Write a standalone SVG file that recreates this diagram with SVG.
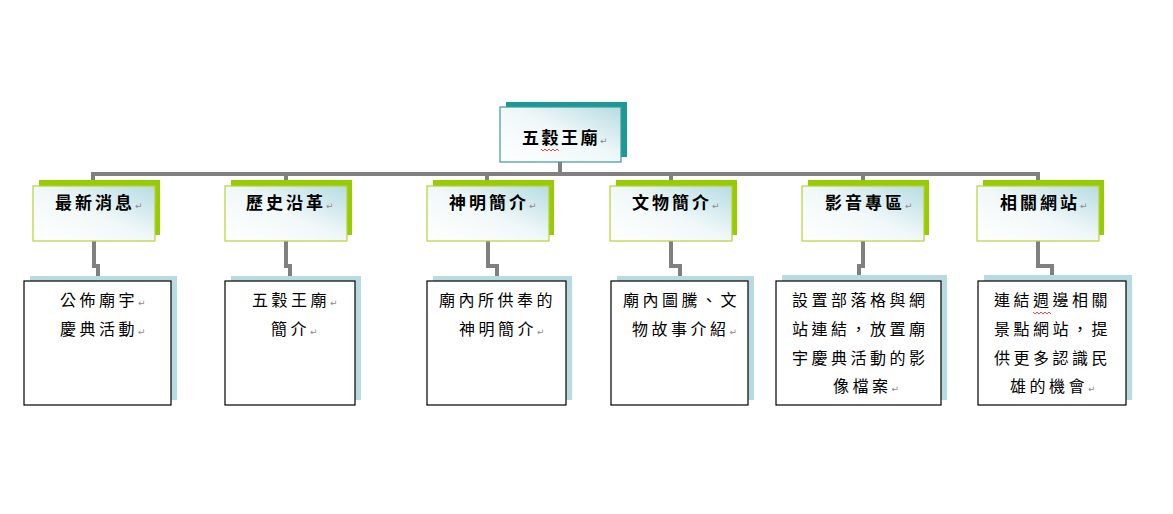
<svg xmlns="http://www.w3.org/2000/svg" width="1173" height="514" viewBox="0 0 1173 514">
<style>
.conn{fill:none;stroke:#808080;stroke-width:4}
.tshadow{fill:#1b9994}
.tfront{fill:url(#gT);stroke:#3a9c99;stroke-width:1.2}
.gshadow{fill:#99cc00}
.gfront{fill:url(#gG);stroke:#b5d334;stroke-width:1.2}
.bshadow{fill:#b8dbe2}
.bfront{fill:#ffffff;stroke:#000000;stroke-width:1.2}
.h1{font-family:"Noto Sans CJK TC","Noto Sans CJK SC",sans-serif;font-weight:700;font-size:17px;letter-spacing:2.5px;fill:#000}
.h2{font-family:"Noto Sans CJK TC","Noto Sans CJK SC",sans-serif;font-weight:700;font-size:17px;letter-spacing:3px;fill:#000}
.t3{font-family:"Noto Sans CJK TC","Noto Sans CJK SC",sans-serif;font-size:16px;letter-spacing:3.5px;fill:#000}
.pm{font-family:"DejaVu Sans",sans-serif;font-size:9px;font-weight:400;letter-spacing:0;fill:#8a8a8a}
.wavy{fill:none;stroke:#e02020;stroke-width:0.8}
</style>
<defs>
<linearGradient id="gT" x1="0" y1="1" x2="1" y2="0">
<stop offset="0" stop-color="#ffffff"/>
<stop offset="0.55" stop-color="#eef7f8"/>
<stop offset="1" stop-color="#b7dbe1"/>
</linearGradient>
<linearGradient id="gG" x1="0" y1="1" x2="1" y2="0">
<stop offset="0" stop-color="#ffffff"/>
<stop offset="0.5" stop-color="#f1f8f9"/>
<stop offset="1" stop-color="#b5dce3"/>
</linearGradient>
</defs>
<rect width="1173" height="514" fill="#ffffff"/>
<g id="connectors">
<path class="conn" d="M560 162 V174"/>
<path class="conn" d="M93 181 V174 H1038 V181"/>
<path class="conn" d="M286 174 V181 M487 174 V181 M671 174 V181 M863 174 V181"/>
<path class="conn" d="M94 240 V266 H98 V277"/>
<path class="conn" d="M286 240 V266 H290 V277"/>
<path class="conn" d="M488 240 V266 H497 V277"/>
<path class="conn" d="M671 240 V266 H680 V277"/>
<path class="conn" d="M863 240 V266 H859 V277"/>
<path class="conn" d="M1038 240 V266 H1052 V277"/>
</g>
<g id="n0">
<rect class="tshadow" x="506" y="102" width="121" height="55"/>
<rect class="tfront" x="500" y="107" width="121" height="55"/>
<text class="h1" x="522" y="144">五穀王廟<tspan class="pm">↵</tspan></text>
<polyline class="wavy" points="541,149 543,151 545,149 547,151 549,149 551,151 553,149 555,151 557,149 559,151"/>
</g>
<g id="n1">
<rect class="gshadow" x="39" y="180" width="121" height="55"/>
<rect class="gfront" x="33" y="186" width="122" height="55"/>
<text class="h2" x="55" y="209">最新消息<tspan class="pm">↵</tspan></text>
</g>
<g id="n2">
<rect class="gshadow" x="231" y="180" width="121" height="55"/>
<rect class="gfront" x="225" y="186" width="122" height="55"/>
<text class="h2" x="246" y="209">歷史沿革<tspan class="pm">↵</tspan></text>
</g>
<g id="n3">
<rect class="gshadow" x="433" y="180" width="121" height="55"/>
<rect class="gfront" x="427" y="186" width="122" height="55"/>
<text class="h2" x="449" y="209">神明簡介<tspan class="pm">↵</tspan></text>
</g>
<g id="n4">
<rect class="gshadow" x="616" y="180" width="121" height="55"/>
<rect class="gfront" x="610" y="186" width="122" height="55"/>
<text class="h2" x="632" y="209">文物簡介<tspan class="pm">↵</tspan></text>
</g>
<g id="n5">
<rect class="gshadow" x="808" y="180" width="121" height="55"/>
<rect class="gfront" x="802" y="186" width="122" height="55"/>
<text class="h2" x="825" y="209">影音專區<tspan class="pm">↵</tspan></text>
</g>
<g id="n6">
<rect class="gshadow" x="983" y="180" width="121" height="55"/>
<rect class="gfront" x="977" y="186" width="122" height="55"/>
<text class="h2" x="1000" y="209">相關網站<tspan class="pm">↵</tspan></text>
</g>
<g id="d1">
<rect class="bshadow" x="30" y="276" width="147" height="124"/>
<rect class="bfront" x="24" y="281" width="147" height="124"/>
<text class="t3" x="60" y="306">公佈廟宇<tspan class="pm">↵</tspan></text>
<text class="t3" x="60" y="335">慶典活動<tspan class="pm">↵</tspan></text>
</g>
<g id="d2">
<rect class="bshadow" x="231" y="276" width="130" height="124"/>
<rect class="bfront" x="225" y="281" width="130" height="124"/>
<text class="t3" x="252" y="306">五穀王廟<tspan class="pm">↵</tspan></text>
<text class="t3" x="271" y="335">簡介<tspan class="pm">↵</tspan></text>
</g>
<g id="d3">
<rect class="bshadow" x="433" y="276" width="139" height="124"/>
<rect class="bfront" x="427" y="281" width="139" height="124"/>
<text class="t3" x="439" y="306">廟內所供奉的</text>
<text class="t3" x="459" y="335">神明簡介<tspan class="pm">↵</tspan></text>
</g>
<g id="d4">
<rect class="bshadow" x="617" y="276" width="137" height="124"/>
<rect class="bfront" x="611" y="281" width="137" height="124"/>
<text class="t3" x="623" y="306">廟內圖騰、文</text>
<text class="t3" x="632" y="335">物故事介紹<tspan class="pm">↵</tspan></text>
</g>
<g id="d5">
<rect class="bshadow" x="782" y="275" width="165" height="125"/>
<rect class="bfront" x="776" y="281" width="165" height="124"/>
<text class="t3" x="792" y="306">設置部落格與網</text>
<text class="t3" x="792" y="335">站連結，放置廟</text>
<text class="t3" x="792" y="364">宇慶典活動的影</text>
<text class="t3" x="833" y="392">像檔案<tspan class="pm">↵</tspan></text>
</g>
<g id="d6">
<rect class="bshadow" x="984" y="275" width="148" height="125"/>
<rect class="bfront" x="978" y="281" width="148" height="124"/>
<text class="t3" x="994" y="306">連結週邊相關</text>
<polyline class="wavy" points="1033,312 1035,314 1037,312 1039,314 1041,312 1043,314 1045,312 1047,314 1049,312 1051,314"/>
<text class="t3" x="994" y="335">景點網站，提</text>
<text class="t3" x="994" y="364">供更多認識民</text>
<text class="t3" x="1010" y="392">雄的機會<tspan class="pm">↵</tspan></text>
</g>
</svg>
